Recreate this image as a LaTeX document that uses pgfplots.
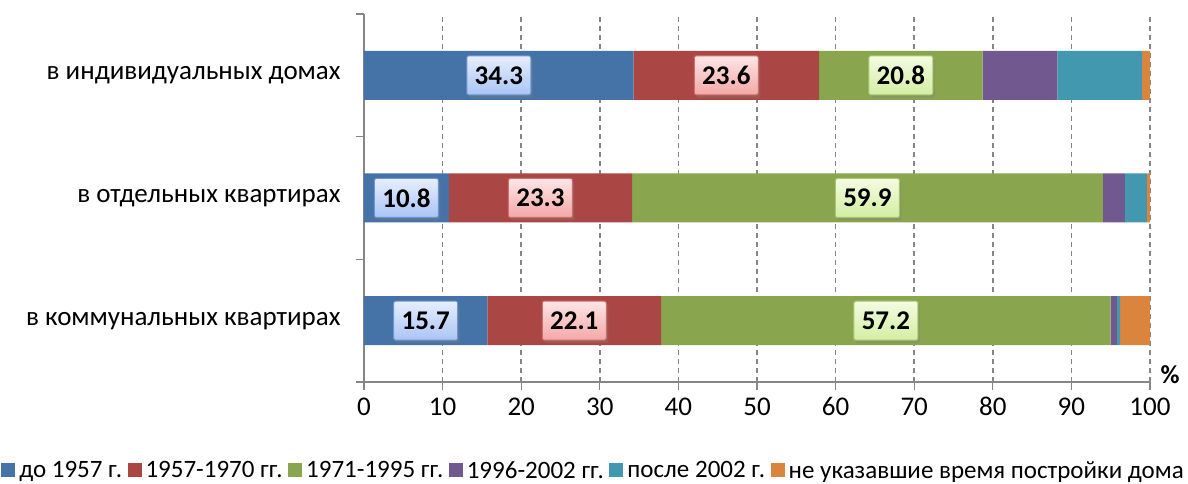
\documentclass[border=0pt]{standalone}
\usepackage{fontspec}
\setmainfont{Carlito}
\usepackage{pgfplots}
\pgfplotsset{compat=1.18}
\usetikzlibrary{shadows}
\definecolor{c1}{HTML}{4572A7}
\definecolor{c2}{HTML}{AA4643}
\definecolor{c3}{HTML}{89A54E}
\definecolor{c4}{HTML}{71588F}
\definecolor{c5}{HTML}{4198AF}
\definecolor{c6}{HTML}{DB843D}
\definecolor{axgray}{HTML}{868686}
\definecolor{bt}{HTML}{E6EEFD}\definecolor{bb}{HTML}{A9C4F5}\definecolor{bd}{HTML}{6D93D3}
\definecolor{rt}{HTML}{FDE6E6}\definecolor{rb}{HTML}{F4A7A7}\definecolor{rd}{HTML}{D06C69}
\definecolor{gt}{HTML}{F4FBE2}\definecolor{gb}{HTML}{D3EEA2}\definecolor{gd}{HTML}{A9C66E}
\tikzset{
  lbl/.style={font=\fontsize{27}{30}\selectfont\bfseries, text=black, rounded corners=2pt,
    minimum width=64pt, minimum height=39pt, inner sep=2pt, line width=1pt,
    drop shadow={shadow xshift=2pt, shadow yshift=-3pt, opacity=0.35}},
}
\begin{document}
\begin{tikzpicture}
\begin{axis}[
  at={(0,0)}, anchor=south west,
  scale only axis, width=786pt, height=368pt,
  xbar stacked, bar width=49pt,
  xmin=0, xmax=100, ymin=-0.5, ymax=2.5,
  xtick={0,10,...,100},
  ytick={-0.5,0.5,1.5,2.5}, yticklabels={},
  extra y ticks={0,1,2},
  extra y tick labels={в коммунальных квартирах, в отдельных квартирах, в индивидуальных домах},
  extra y tick style={major tick length=0pt, yticklabel style={xshift=-20pt}},
  axis x line*=bottom, axis y line*=left,
  axis line style={axgray, line width=1.3pt},
  major tick length=8pt,
  tick style={axgray, line width=1.3pt},
  tick align=outside,
  xmajorgrids, major x grid style={draw=axgray, line width=1.6pt, dash pattern=on 5pt off 4pt},
  ticklabel style={font=\fontsize{27}{30}\selectfont, text=black},
  xticklabel style={yshift=-4pt},
  /pgf/number format/assume math mode=true,
  legend columns=6,
  legend style={draw=none, at={(0.292,-0.24)}, anchor=center, font=\fontsize{25}{28}\selectfont,
    /tikz/every even column/.append style={column sep=3.5pt},
    /tikz/every odd column/.append style={column sep=2pt}},
  legend image code/.code={\fill[#1] (0pt,-7pt) rectangle (14pt,7pt);},
  legend cell align=left,
  clip=false,
]
\addplot[fill=c1, draw=none] coordinates {(15.7,0) (10.8,1) (34.3,2)};
\addplot[fill=c2, draw=none] coordinates {(22.1,0) (23.3,1) (23.6,2)};
\addplot[fill=c3, draw=none] coordinates {(57.2,0) (59.9,1) (20.8,2)};
\addplot[fill=c4, draw=none] coordinates {(0.8,0) (2.8,1) (9.5,2)};
\addplot[fill=c5, draw=none] coordinates {(0.4,0) (2.8,1) (10.8,2)};
\addplot[fill=c6, draw=none] coordinates {(3.8,0) (0.4,1) (1.0,2)};
\legend{до 1957 г., 1957-1970 гг., 1971-1995 гг., 1996-2002 гг., после 2002 г., не указавшие время постройки дома}
\node[font=\fontsize{26}{28}\selectfont\bfseries, anchor=west, yshift=7pt] at (axis cs:100.9,-0.5) {\%};
\end{axis}
\begin{axis}[
  at={(0,0)}, anchor=south west,
  scale only axis, width=786pt, height=368pt,
  xmin=0, xmax=100, ymin=-0.5, ymax=2.5,
  hide axis, clip=false,
  nodes near coords, point meta=explicit symbolic,
]
\addplot[draw=none, mark=none, nodes near coords style={anchor=center, lbl, draw=bd, top color=bt, bottom color=bb}]
  coordinates {(7.85,0) [15.7] (5.4,1) [10.8] (17.15,2) [34.3]};
\addplot[draw=none, mark=none, nodes near coords style={anchor=center, lbl, draw=rd, top color=rt, bottom color=rb}]
  coordinates {(26.75,0) [22.1] (22.45,1) [23.3] (46.1,2) [23.6]};
\addplot[draw=none, mark=none, nodes near coords style={anchor=center, lbl, draw=gd, top color=gt, bottom color=gb}]
  coordinates {(66.4,0) [57.2] (64.05,1) [59.9] (68.3,2) [20.8]};
\end{axis}
\pgfresetboundingbox
\path[use as bounding box] (-364pt,-102pt) rectangle (824pt,382pt);
\end{tikzpicture}
\end{document}
